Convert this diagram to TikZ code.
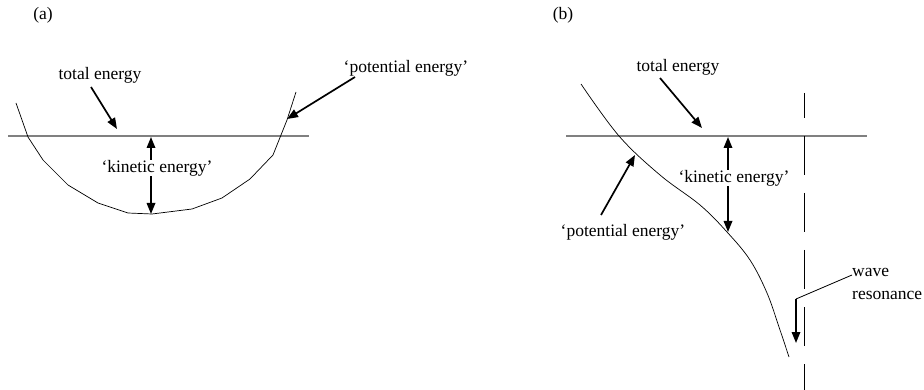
\documentclass[tikz,border=0pt]{standalone}
\usepackage{fontspec}
\setmainfont{Liberation Serif}
\usetikzlibrary{arrows.meta}
\newcommand\lblsize{\fontsize{17.5}{23}\selectfont}

\begin{document}
\begin{tikzpicture}[x=1pt, y=-1pt, >={Triangle[length=11pt, width=8.5pt]},
  every node/.style={font=\lblsize},
  level/.style={draw=black!50, line width=1.3pt},
  curve/.style={line width=0.7pt},
  pointer/.style={->, line width=1.7pt},
  gap/.style={fill=white, inner sep=0.5pt}]
  \useasboundingbox (0,0) rectangle (924,390);
  % panel (a): well
  \node (la) at (43,15) {(a)};
  \coordinate (ea1) at (8,136); \coordinate (ea2) at (309,136);
  \draw[level] (ea1) -- (ea2);
  \draw[curve] (16,103) -- (28,137) -- (43,160) -- (68,185) -- (98,203) -- (128,213)
    -- (152,214) -- (192,209) -- (222,198) -- (250,179) -- (273,155) -- (287,120) -- (296,92);
  \node (totA) at (100,75) {total energy};
  \coordinate (totAtip) at (117,129);
  \draw[pointer] (91,87) -- (totAtip);
  \node (potA) at (406,68) {‘potential energy’};
  \coordinate (potAtip) at (287,119);
  \draw[pointer] (355,77) -- (potAtip);
  \coordinate (kinAtop) at (151,137); \coordinate (kinAbot) at (151,214);
  \draw[<->, line width=1.7pt] (kinAtop) -- (kinAbot);
  \node[gap] (kinA) at (157,168) {‘kinetic energy’};
  % panel (b): slope and resonance
  \node (lb) at (563,15) {(b)};
  \coordinate (eb1) at (566,136); \coordinate (eb2) at (867,136);
  \draw[level] (eb1) -- (eb2);
  \draw[curve] plot[smooth, tension=0.6] coordinates {(581,84) (619,136) (660,175)
    (700,205) (727,232) (750,260) (767,293) (779,327) (789,357)};
  \coordinate (res1) at (804,93); \coordinate (res2) at (804,390);
  \draw[line width=1pt, dash pattern=on 39pt off 18pt, dash phase=14pt] (res1) -- (res2);
  \node (totB) at (678,67) {total energy};
  \coordinate (totBtip) at (702,128);
  \draw[pointer] (660,78) -- (totBtip);
  \node (potB) at (623,232) {‘potential energy’};
  \coordinate (potBtip) at (635,155);
  \draw[pointer] (601,215) -- (potBtip);
  \coordinate (kinBtop) at (728,137); \coordinate (kinBbot) at (728,232);
  \draw[<->, line width=1.7pt] (kinBtop) -- (kinBbot);
  \node[gap] (kinB) at (734,178) {‘kinetic energy’};
  \node[anchor=west, align=left, inner sep=0pt] (wave) at (852,284) {wave\\resonance};
  \coordinate (bend) at (796,299); \coordinate (wavetip) at (796,343);
  \draw[line width=0.8pt] (wave.west |- 0,275) -- (bend);
  \draw[pointer] (bend) -- (wavetip);
\end{tikzpicture}
\end{document}
